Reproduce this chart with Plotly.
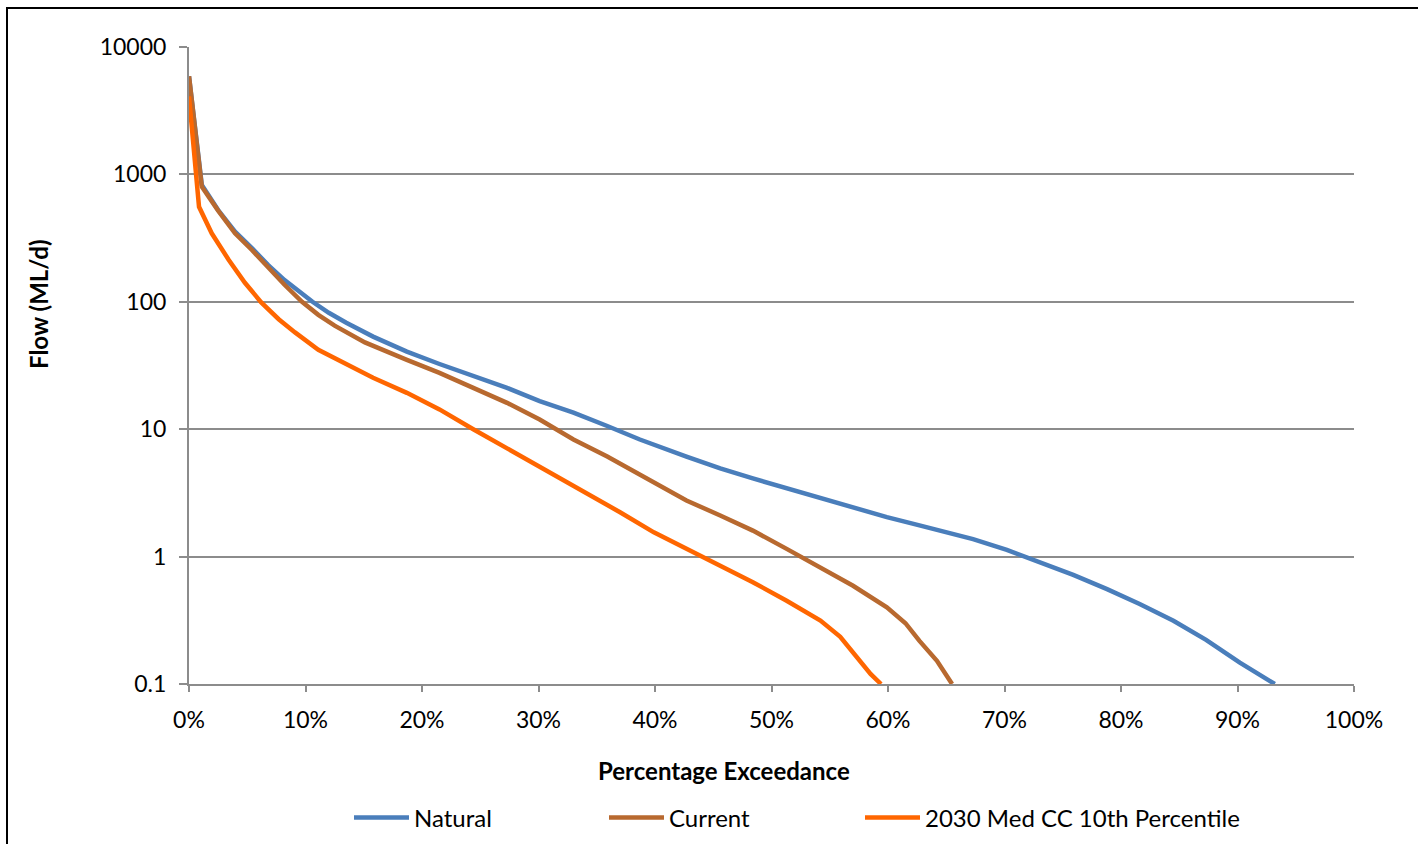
import plotly.graph_objects as go

# Percentage exceedance (%) and flow (ML/d)
natural_x = [0, 1.1, 2.5, 3.95, 5.4, 6.8, 8.2, 9.7, 10.6, 12.0, 13.5, 15.8, 18.7, 21.5, 24.4,
             27.3, 30.1, 33.0, 35.9, 38.7, 42.7, 45.6, 48.4, 51.3, 54.2, 57.0, 59.9, 62.7,
             64.5, 67.3, 70.2, 73.1, 75.9, 78.8, 81.6, 84.5, 87.3, 90.2, 93.2]
natural_y = [5900, 825, 525, 355, 264, 194, 148, 116, 100, 82, 68.4, 53.3, 40.6, 32.5, 26,
             21.1, 16.6, 13.5, 10.6, 8.3, 6.1, 4.92, 4.11, 3.43, 2.86, 2.45, 2.04, 1.76,
             1.60, 1.37, 1.13, 0.90, 0.718, 0.555, 0.425, 0.314, 0.222, 0.147, 0.1]

current_x = [0, 1.1, 2.5, 3.95, 5.4, 6.8, 8.2, 9.7, 11.1, 12.5, 15.1, 18.7, 21.5, 24.4, 27.3,
             30.1, 33.0, 35.9, 38.7, 42.7, 45.6, 48.4, 51.3, 54.2, 57.0, 59.9, 61.5, 62.7,
             64.2, 65.5]
current_y = [5900, 800, 520, 345, 255, 184, 136, 100, 79, 65, 48, 35, 27.7, 21.1, 16.1,
             11.9, 8.3, 6.1, 4.4, 2.76, 2.1, 1.6, 1.15, 0.82, 0.59, 0.40, 0.30, 0.218,
             0.152, 0.1]

cc_x = [0, 0.86, 1.95, 3.4, 4.8, 6.2, 7.7, 9.1, 11.1, 13.1, 15.8, 18.7, 21.5, 24.4, 27.3,
        30.1, 33.0, 37.0, 39.9, 42.7, 45.6, 48.4, 51.3, 54.2, 55.9, 57.0, 58.5, 59.4]
cc_y = [4100, 557, 345, 214, 141, 99, 73, 57.5, 42, 34, 25.3, 19.3, 14.3, 10, 7.1,
        5.1, 3.57, 2.23, 1.55, 1.15, 0.85, 0.63, 0.45, 0.315, 0.235, 0.175, 0.12, 0.1]

series_names = ["Natural", "Current", "2030 Med CC 10th Percentile"]
series_colors = ["#4A7EBB", "#B8692F", "#FF6600"]

y_tickvals = [0.1, 1, 10, 100, 1000, 10000]
y_ticktext = ["0.1", "1", "10", "100", "1000", "10000"]
x_tickvals = [0, 10, 20, 30, 40, 50, 60, 70, 80, 90, 100]
x_ticktext = [f"{v}%" for v in x_tickvals]

FONT = "Lato, 'Open Sans', sans-serif"

# plot-area pixel geometry
L, R, T, B = 189, 1354, 47, 684
W, H = 1418, 844


def px_x(px):
    return (px - L) / (R - L)


def px_y(py):
    return (B - py) / (B - T)


legend_ids = ["legend", "legend2", "legend3"]
legend_line_start = [355, 610, 866]

fig = go.Figure()
for name, xs, ys, col, lid in zip(series_names, [natural_x, current_x, cc_x],
                                  [natural_y, current_y, cc_y], series_colors, legend_ids):
    fig.add_trace(go.Scatter(x=xs, y=ys, mode="lines", name=name, legend=lid,
                             line=dict(color=col, width=4.5)))

grid_col = "#8C8C8C"
legend_common = dict(orientation="h", yanchor="middle", y=px_y(818), xanchor="left",
                     font=dict(size=24, family=FONT), itemwidth=55,
                     bgcolor="rgba(0,0,0,0)", borderwidth=0)

layout_legends = {}
for lid, ls in zip(legend_ids, legend_line_start):
    d = dict(legend_common)
    d["x"] = px_x(ls - 6)
    layout_legends[lid] = d

fig.update_layout(
    width=W, height=H,
    margin=dict(l=L, r=W - R, t=T, b=H - B, autoexpand=False),
    paper_bgcolor="white", plot_bgcolor="white",
    font=dict(family=FONT, size=23, color="black"),
    showlegend=True,
    xaxis=dict(range=[0, 100], tickvals=x_tickvals, ticktext=x_ticktext,
               showgrid=False, zeroline=False,
               showline=True, linecolor=grid_col, linewidth=2,
               ticks="outside", ticklen=6, tickwidth=2, tickcolor=grid_col,
               ticklabelstandoff=8),
    yaxis=dict(type="log", range=[-1, 4], tickvals=y_tickvals, ticktext=y_ticktext,
               showgrid=True, gridcolor=grid_col, gridwidth=2, zeroline=False,
               showline=True, linecolor=grid_col, linewidth=2,
               ticks="outside", ticklen=8, tickwidth=2, tickcolor=grid_col,
               ticklabelstandoff=8),
    **layout_legends,
)

# axis titles
fig.add_annotation(text="<b>Percentage Exceedance</b>", xref="paper", yref="paper",
                   x=px_x(724), y=px_y(770), xanchor="center", yanchor="middle",
                   showarrow=False, font=dict(size=24, family=FONT))
fig.add_annotation(text="<b>Flow (ML/d)</b>", xref="paper", yref="paper",
                   x=px_x(38), y=px_y(304), xanchor="center", yanchor="middle",
                   textangle=-90, showarrow=False, font=dict(size=24, family=FONT))

# outer chart border
fig.add_shape(type="rect", xref="paper", yref="paper",
              x0=px_x(7), x1=1.2, y0=-0.4, y1=px_y(8),
              line=dict(color="black", width=2), fillcolor="rgba(0,0,0,0)", layer="below")

fig.write_html("out.html")
